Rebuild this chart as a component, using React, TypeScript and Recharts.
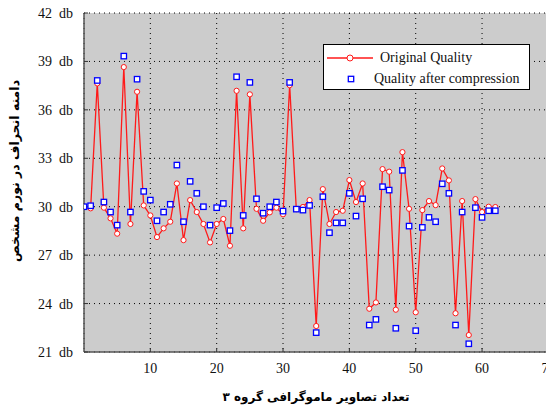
import React from 'react';
import { ComposedChart, Line, Scatter, XAxis, YAxis, CartesianGrid, Label } from 'recharts';

const imageIndex = [
  0, 1, 2, 3, 4, 5, 6, 7, 8, 9, 10, 11, 12, 13, 14, 15, 16, 17, 18, 19, 20,
  21, 22, 23, 24, 25, 26, 27, 28, 29, 30, 31, 32, 33, 34, 35, 36, 37, 38, 39, 40,
  41, 42, 43, 44, 45, 46, 47, 48, 49, 50, 51, 52, 53, 54, 55, 56, 57, 58, 59, 60,
  61, 62,
];

const originalQuality: (number | null)[] = [
  null, 29.9, 37.64, 29.94, 29.28, 28.33, 38.65, 28.93, 37.12, 30.08, 29.46,
  28.12, 28.66, 29.07, 31.44, 27.93, 30.41, 29.67, 28.93, 27.79, 28.93,
  29.24, 27.58, 37.18, 28.66, 36.96, 29.87, 29.13, 29.65, 29.94, 29.53,
  37.53, 29.85, 29.98, 30.41, 22.61, 31.09, 28.93, 29.67, 29.75, 31.65,
  30.29, 31.44, 23.68, 24.07, 32.33, 32.17, 23.62, 33.38, 29.87, 23.46,
  29.79, 30.35, 30.1, 32.37, 31.63, 23.4, 30.35, 22.05, 30.47, 29.67,
  30.0, 29.98,
];

const compressedQuality: number[] = [
  30.0, 30.06, 37.82, 30.29, 29.67, 28.86, 39.33, 29.67, 37.9, 30.95, 30.41,
  29.13, 29.67, 30.15, 32.58, 29.07, 31.57, 30.83, 30.0, 28.86, 29.94,
  30.2, 28.52, 38.05, 29.46, 37.7, 30.49, 29.6, 30.0, 30.29, 29.73,
  37.7, 29.85, 29.79, 30.08, 22.2, 30.62, 28.39, 29.0, 29.0, 30.83,
  29.42, 30.49, 22.67, 23.02, 31.24, 31.03, 22.47, 32.25, 28.8, 22.32,
  28.72, 29.34, 29.07, 31.42, 30.83, 22.67, 29.67, 21.51, 29.94, 29.34,
  29.75, 29.75,
];

const xTicks = [10, 20, 30, 40, 50, 60, 70];
const yTicks = [21, 24, 27, 30, 33, 36, 39, 42];
const seriesNames = ['Original Quality', 'Quality after compression'];
const xTitle = 'تعداد تصاویر ماموگرافی گروه ۳';
const yTitle = 'دامنه انحراف در نورم مشخص';

const data = imageIndex.map((x, i) => ({
  x,
  orig: originalQuality[i],
  comp: compressedQuality[i],
}));

const RED = '#ff1a1a';
const BLUE = '#0000ff';
const serif = 'Liberation Serif, Times New Roman, serif';

const RedDot = (props: any) => {
  const { cx, cy, index } = props;
  if (cx == null || cy == null || props.value == null) return <g key={`d${index}`} />;
  return <circle key={`d${index}`} cx={cx} cy={cy} r={2.6} fill="#fff" stroke={RED} strokeWidth={1} />;
};

const BlueSquare = (props: any) => {
  const { cx, cy } = props;
  if (cx == null || cy == null) return <g />;
  return <rect x={cx - 2.7} y={cy - 2.7} width={5.4} height={5.4} fill="#fff" stroke={BLUE} strokeWidth={1.3} />;
};

const LegendBox = () => (
  <div
    style={{
      position: 'absolute',
      left: 323,
      top: 44,
      width: 205,
      height: 44,
      border: '1px solid #000',
      background: '#fff',
      fontFamily: serif,
      fontSize: 14,
      color: '#111',
    }}
  >
    <div style={{ position: 'absolute', left: 3, top: 4, height: 18, display: 'flex', alignItems: 'center' }}>
      <svg width={46} height={10}>
        <line x1={0} y1={5} x2={46} y2={5} stroke={RED} strokeWidth={1.3} />
        <circle cx={23} cy={5} r={3} fill="#fff" stroke={RED} strokeWidth={1} />
      </svg>
      <span style={{ marginLeft: 7, whiteSpace: 'nowrap' }}>{seriesNames[0]}</span>
    </div>
    <div style={{ position: 'absolute', left: 23, top: 25, height: 18, display: 'flex', alignItems: 'center' }}>
      <svg width={8} height={8}>
        <rect x={1.3} y={1.3} width={5.4} height={5.4} fill="#fff" stroke={BLUE} strokeWidth={1.3} />
      </svg>
      <span style={{ marginLeft: 19, whiteSpace: 'nowrap' }}>{seriesNames[1]}</span>
    </div>
  </div>
);

const YTitle = () => (
  <text
    x={14}
    y={171}
    transform="rotate(-90 14 171)"
    textAnchor="middle"
    dominantBaseline="central"
    fontFamily="DejaVu Sans, sans-serif"
    fontWeight="bold"
    fontSize={12.5}
    fill="#000"
  >
    {yTitle}
  </text>
);

const XTitle = () => (
  <text
    x={316}
    y={397}
    textAnchor="middle"
    dominantBaseline="central"
    fontFamily="DejaVu Sans, sans-serif"
    fontWeight="bold"
    fontSize={12}
    fill="#000"
  >
    {xTitle}
  </text>
);

export default function App() {
  return (
    <div style={{ position: 'absolute', left: 0, top: 0, width: 546, height: 408, overflow: 'hidden', background: '#fff' }}>
      <ComposedChart
        width={560}
        height={408}
        data={data}
        margin={{ top: 13, right: 11.6, left: 0, bottom: 0 }}
      >
        <CartesianGrid
          fill="#cccccc"
          stroke="#000"
          strokeDasharray="1 4"
          strokeWidth={1}
        />
        <XAxis
          type="number"
          dataKey="x"
          domain={[0, 70]}
          ticks={xTicks}
          allowDataOverflow
          tickLine={{ stroke: '#333', strokeWidth: 1 }}
          tickSize={-4}
          axisLine={{ stroke: '#555', strokeWidth: 1.5 }}
          tickMargin={15}
          height={56}
          tick={{ fill: '#111', fontSize: 14, fontFamily: serif }}
        >
          <Label content={XTitle} />
        </XAxis>
        <YAxis
          type="number"
          domain={[21, 42]}
          ticks={yTicks}
          allowDataOverflow
          width={84}
          tickLine={{ stroke: '#333', strokeWidth: 1 }}
          tickSize={-4}
          axisLine={{ stroke: '#555', strokeWidth: 1.5 }}
          tickMargin={15}
          tickFormatter={(v: number) => `${v}\u00a0\u00a0db`}
          tick={{ fill: '#111', fontSize: 14, fontFamily: serif }}
        >
          <Label content={YTitle} />
        </YAxis>
        <Line
          type="linear"
          dataKey="orig"
          stroke={RED}
          strokeWidth={1.3}
          dot={RedDot}
          activeDot={false}
          connectNulls={false}
          isAnimationActive={false}
        />
        <Scatter
          data={data}
          dataKey="comp"
          shape={BlueSquare}
          isAnimationActive={false}
        />
      </ComposedChart>
      <LegendBox />
    </div>
  );
}
